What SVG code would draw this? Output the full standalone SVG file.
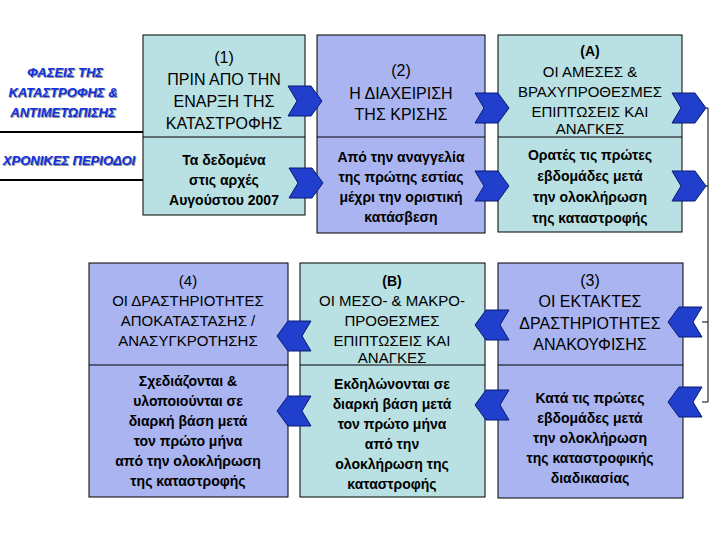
<svg xmlns="http://www.w3.org/2000/svg" width="720" height="540" viewBox="0 0 720 540">
<style>
.c{fill:#b9e0e2;stroke:#000;stroke-width:1}
.p{fill:#a9b4f0;stroke:#000;stroke-width:1}
.d{stroke:#000;stroke-width:1}
text{font-family:"Liberation Sans",Arial,sans-serif;text-anchor:middle;fill:#000}
.t{font-size:15px}
.u{font-size:16px}
.b{font-size:14px;font-weight:bold}
.lab{font-size:13px;font-weight:bold;font-style:italic;fill:#1030e0;text-anchor:middle}
.sh{font-size:13px;font-weight:bold;font-style:italic;fill:#909090;text-anchor:middle}
.ar{fill:#1f3fcc;stroke:#0a1a70;stroke-width:1}
.ln{stroke:#000;fill:none}
</style>
<defs>
<path id="r" d="M0,-15 L23,-15 L34,0 L23,15 L0,15 L9,0 Z"/>
<path id="l" d="M0,-15 L-23,-15 L-34,0 L-23,15 L0,15 L-9,0 Z"/>
</defs>
<g id="labels">
<text class="sh" x="66" y="78">ΦΑΣΕΙΣ ΤΗΣ</text><text class="lab" x="65" y="77">ΦΑΣΕΙΣ ΤΗΣ</text>
<text class="sh" x="64" y="98">ΚΑΤΑΣΤΡΟΦΗΣ &amp;</text><text class="lab" x="63" y="97">ΚΑΤΑΣΤΡΟΦΗΣ &amp;</text>
<text class="sh" x="64" y="118">ΑΝΤΙΜΕΤΩΠΙΣΗΣ</text><text class="lab" x="63" y="117">ΑΝΤΙΜΕΤΩΠΙΣΗΣ</text>
<text class="sh" x="70" y="166">ΧΡΟΝΙΚΕΣ ΠΕΡΙΟΔΟΙ</text><text class="lab" x="69" y="165">ΧΡΟΝΙΚΕΣ ΠΕΡΙΟΔΟΙ</text>
<line x1="0" y1="132" x2="143" y2="132" stroke="#000" stroke-width="2"/>
<line x1="0" y1="180" x2="143" y2="180" stroke="#000" stroke-width="2"/>
</g>
<g id="n1"><rect class="c" x="143" y="35" width="162" height="180"/><line class="d" x1="143" y1="137" x2="305" y2="137"/>
<text class="u" x="224" y="63">(1)</text><text class="u" x="224" y="85">ΠΡΙΝ ΑΠΟ ΤΗΝ</text><text class="u" x="224" y="107">ΕΝΑΡΞΗ ΤΗΣ</text><text class="u" x="224" y="129">ΚΑΤΑΣΤΡΟΦΗΣ</text>
<text class="b" x="224" y="165">Τα δεδομένα</text><text class="b" x="224" y="185">στις αρχές</text><text class="b" x="224" y="205">Αυγούστου 2007</text></g>
<g id="n2"><rect class="p" x="317" y="35" width="168" height="198"/><line class="d" x1="317" y1="137" x2="485" y2="137"/>
<text class="u" x="401" y="76">(2)</text><text class="u" x="401" y="99">Η ΔΙΑΧΕΙΡΙΣΗ</text><text class="u" x="401" y="120">ΤΗΣ ΚΡΙΣΗΣ</text>
<text class="b" x="401" y="162">Από την αναγγελία</text><text class="b" x="401" y="182">της πρώτης εστίας</text><text class="b" x="401" y="202">μέχρι την οριστική</text><text class="b" x="401" y="222">κατάσβεση</text></g>
<g id="nA"><rect class="c" x="498" y="35" width="184" height="197"/><line class="d" x1="498" y1="137" x2="682" y2="137"/>
<text x="590" y="56" font-weight="bold" font-size="14">(A)</text><text class="t" x="590" y="77">ΟΙ ΑΜΕΣΕΣ &amp;</text><text class="t" x="590" y="97">ΒΡΑΧΥΠΡΟΘΕΣΜΕΣ</text><text class="t" x="590" y="117">ΕΠΙΠΤΩΣΕΙΣ ΚΑΙ</text><text class="t" x="590" y="134">ΑΝΑΓΚΕΣ</text>
<text class="b" x="590" y="160">Ορατές τις πρώτες</text><text class="b" x="590" y="181">εβδομάδες μετά</text><text class="b" x="590" y="202">την ολοκλήρωση</text><text class="b" x="590" y="223">της καταστροφής</text></g>
<g id="n4"><rect class="p" x="89" y="263" width="199" height="234"/><line class="d" x1="89" y1="365" x2="288" y2="365"/>
<text class="t" x="188" y="286">(4)</text><text class="t" x="188" y="306">ΟΙ ΔΡΑΣΤΗΡΙΟΤΗΤΕΣ</text><text class="t" x="188" y="326">ΑΠΟΚΑΤΑΣΤΑΣΗΣ /</text><text class="t" x="188" y="346">ΑΝΑΣΥΓΚΡΟΤΗΣΗΣ</text>
<text class="b" x="188" y="386">Σχεδιάζονται &amp;</text><text class="b" x="188" y="406">υλοποιούνται σε</text><text class="b" x="188" y="426">διαρκή βάση μετά</text><text class="b" x="188" y="446">τον πρώτο μήνα</text><text class="b" x="188" y="466">από την ολοκλήρωση</text><text class="b" x="188" y="486">της καταστροφής</text></g>
<g id="nB"><rect class="c" x="300" y="263" width="185" height="234"/><line class="d" x1="300" y1="365" x2="485" y2="365"/>
<text x="392" y="286" font-weight="bold" font-size="14">(B)</text><text class="t" x="392" y="306">ΟΙ ΜΕΣΟ- &amp; ΜΑΚΡΟ-</text><text class="t" x="392" y="326">ΠΡΟΘΕΣΜΕΣ</text><text class="t" x="392" y="346">ΕΠΙΠΤΩΣΕΙΣ ΚΑΙ</text><text class="t" x="392" y="363">ΑΝΑΓΚΕΣ</text>
<text class="b" x="392" y="389">Εκδηλώνονται σε</text><text class="b" x="392" y="409">διαρκή βάση μετά</text><text class="b" x="392" y="429">τον πρώτο μήνα</text><text class="b" x="392" y="449">από την</text><text class="b" x="392" y="469">ολοκλήρωση της</text><text class="b" x="392" y="489">καταστροφής</text></g>
<g id="n3"><rect class="p" x="498" y="263" width="185" height="235"/><line class="d" x1="498" y1="365" x2="683" y2="365"/>
<text class="u" x="590" y="286">(3)</text><text class="u" x="590" y="307">ΟΙ ΕΚΤΑΚΤΕΣ</text><text class="u" x="590" y="329">ΔΡΑΣΤΗΡΙΟΤΗΤΕΣ</text><text class="u" x="590" y="350">ΑΝΑΚΟΥΦΙΣΗΣ</text>
<text class="b" x="590" y="403">Κατά τις πρώτες</text><text class="b" x="590" y="423">εβδομάδες μετά</text><text class="b" x="590" y="443">την ολοκλήρωση</text><text class="b" x="590" y="463">της καταστροφικής</text><text class="b" x="590" y="483">διαδικασίας</text></g>
<g id="connectors">
<polyline class="ln" points="706,108 708,108 708,402 702,402"/>
<line class="ln" x1="708" y1="186" x2="706" y2="186"/>
<line class="ln" x1="708" y1="322" x2="702" y2="322"/>
<use href="#r" class="ar" x="288" y="101"/><use href="#r" class="ar" x="289" y="183"/>
<use href="#r" class="ar" x="475" y="108"/><use href="#r" class="ar" x="475" y="186"/>
<use href="#r" class="ar" x="672" y="108"/><use href="#r" class="ar" x="672" y="186"/>
<use href="#l" class="ar" x="702" y="322"/><use href="#l" class="ar" x="702" y="402"/>
<use href="#l" class="ar" x="509" y="325"/><use href="#l" class="ar" x="509" y="405"/>
<use href="#l" class="ar" x="311" y="336"/><use href="#l" class="ar" x="311" y="411"/>
</g>
</svg>
